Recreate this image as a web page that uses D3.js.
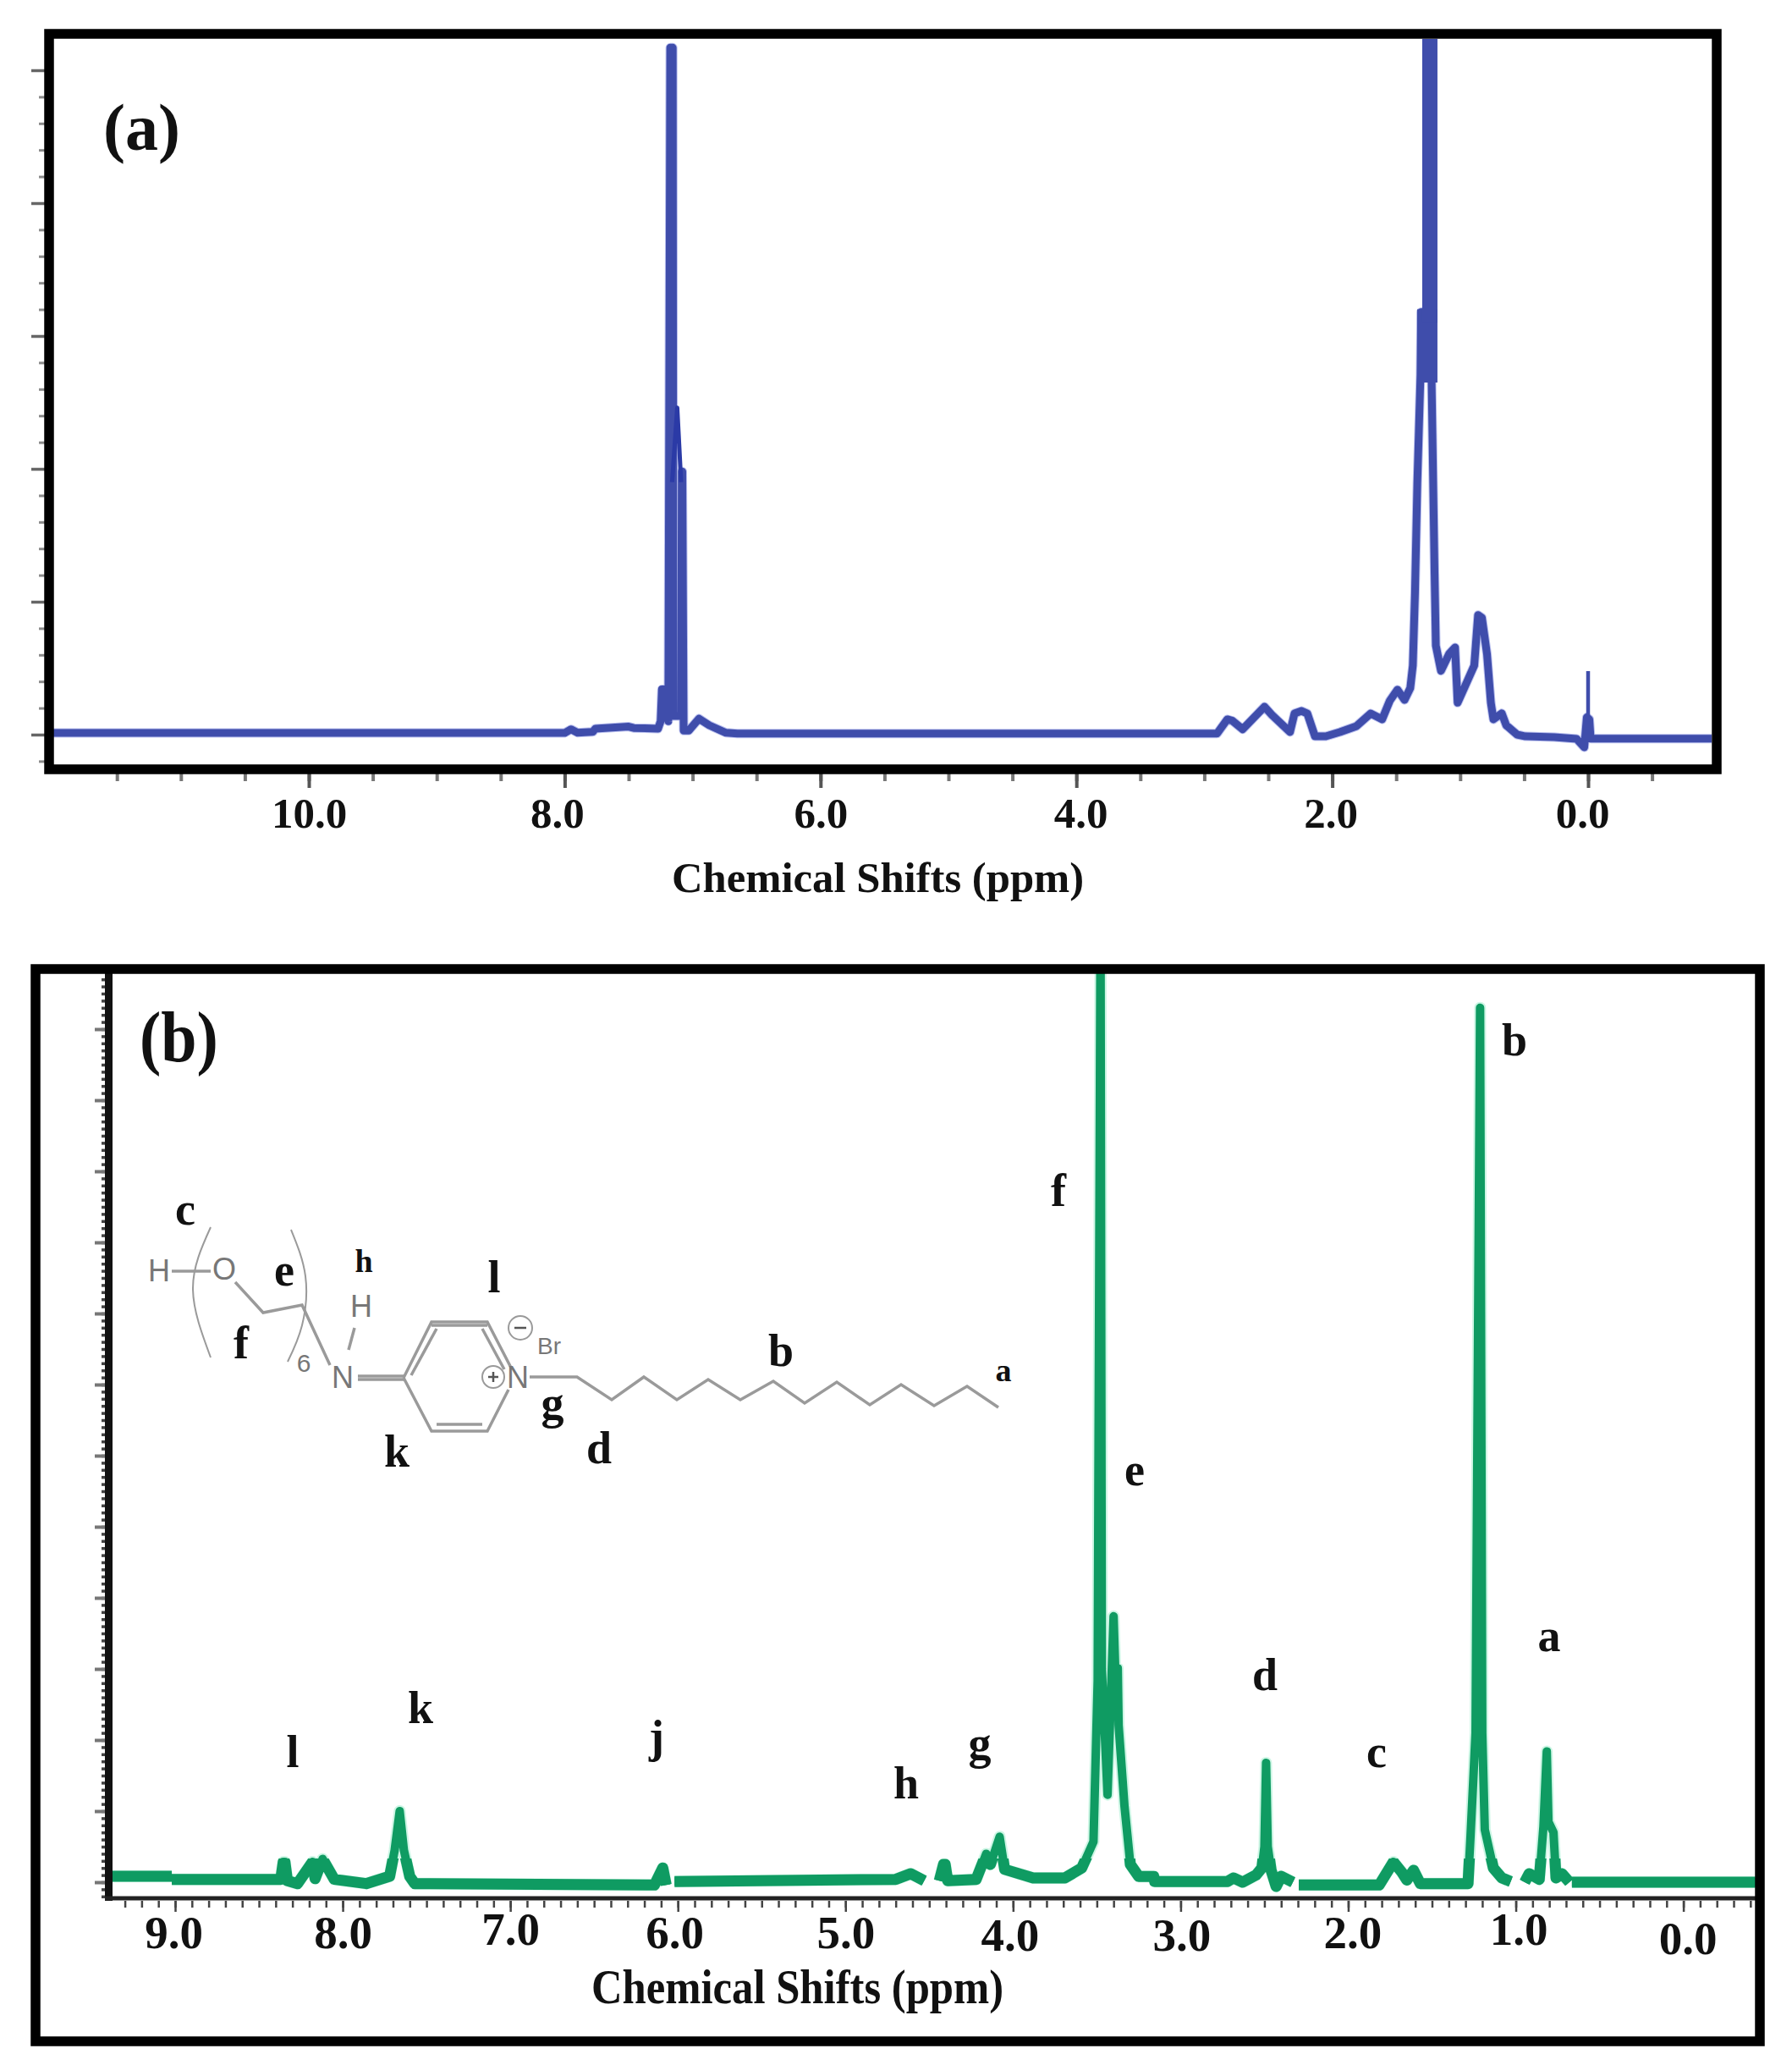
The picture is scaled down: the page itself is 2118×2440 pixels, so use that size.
<!DOCTYPE html>
<html><head><meta charset="utf-8">
<script src="https://cdn.jsdelivr.net/npm/d3@7"></script>
<style>html,body{margin:0;background:#fff}svg{display:block}text{font-family:"Liberation Serif",serif;font-weight:bold;fill:#111}</style>
</head><body><div id="c"></div>
<script>
// ---------- data: [chemical shift (ppm), intensity] ----------
const spectrumA = [[12,0.012],[8,0.012],[7.95,0.04],[7.9,0.015],[7.78,0.02],[7.76,0.045],[7.5,0.06],[7.46,0.05],[7.27,0.045],[7.25,0.1],[7.24,0.34],[7.2,0.34],[7.19,0.1],[7.175,5.17],[7.155,5.17],[7.15,0.14],[7.09,0.14],[7.085,1.98],[7.08,1.98],[7.07,0.03],[7.03,0.03],[6.95,0.12],[6.87,0.07],[6.74,0.014],[6.65,0.008],[2.9,0.008],[2.82,0.115],[2.78,0.104],[2.7,0.04],[2.53,0.21],[2.47,0.146],[2.33,0.019],[2.295,0.159],[2.24,0.178],[2.195,0.159],[2.135,-0.013],[2.05,-0.013],[1.94,0.019],[1.81,0.064],[1.7,0.159],[1.61,0.115],[1.55,0.255],[1.49,0.338],[1.435,0.261],[1.39,0.35],[1.37,0.52],[1.353,1.07],[1.335,1.89],[1.31,2.71],[1.305,3.18],[1.22,3.18],[1.224,2.71],[1.2,1.21],[1.19,0.67],[1.15,0.48],[1.085,0.61],[1.04,0.656],[1.02,0.24],[0.95,0.39],[0.89,0.52],[0.86,0.9],[0.83,0.88],[0.79,0.605],[0.76,0.24],[0.74,0.115],[0.675,0.16],[0.64,0.07],[0.555,0],[0.49,-0.013],[0.265,-0.019],[0.09,-0.032],[0.03,-0.096],[0.01,0.13],[-0.01,0.115],[-0.02,-0.03],[-0.97,-0.03]];
const shoulderA = [[7.16,1.9],[7.12,2.46],[7.09,1.9]];
const thickRiseA = [[1.257,2.65],[1.257,3.2]];
const mainColumnA = [[1.237,3.1],[1.237,5.6]];
const referenceSpikeA = [[0,0.1],[0,0.478]];

const spectrumB = [[9.4,0.083],[9.02,0.083],null,[9.02,0.04],[8.37,0.04],[8.355,0.286],[8.345,0.286],[8.33,0.02],[8.27,-0.02],[8.18,0.286],[8.165,0.05],[8.12,0.327],[8.05,0.04],[7.86,-0.02],[7.72,0.083],[7.69,0.45],[7.66,1],[7.635,0.45],[7.6,0.08],[7.57,-0.02],[6.14,-0.04],[6.09,0.2],[6.07,-0.04],null,[6.02,0.01],[4.7,0.04],[4.61,0.12],[4.53,0.02],null,[4.44,0.02],[4.415,0.25],[4.405,0.25],[4.39,0.02],[4.22,0.04],[4.16,0.4],[4.135,0.25],[4.08,0.64],[4.05,0.18],[3.88,0.06],[3.69,0.06],[3.59,0.2],[3.52,0.57],[3.495,2.83],[3.478,13.5],[3.47,3],[3.436,1.23],[3.4,3.74],[3.385,2.6],[3.375,3.01],[3.37,2.21],[3.335,1.07],[3.3,0.25],[3.25,0.08],[3.16,0.08],[3.155,0.01],[2.72,0.01],[2.685,0.06],[2.63,0],[2.55,0.1],[2.515,0.2],[2.5,0.5],[2.49,1.68],[2.48,0.5],[2.46,0.167],[2.43,-0.06],[2.4,0.083],[2.33,0],null,[2.295,-0.04],[1.815,-0.04],[1.73,0.286],[1.68,0.14],[1.65,0.03],[1.61,0.167],[1.57,-0.02],[1.285,-0.02],[1.27,0.65],[1.24,2.1],[1.213,12.3],[1.2,2.1],[1.185,0.74],[1.134,0.2],[1.083,0.06],[1.03,0.01],null,[0.947,0],[0.92,0.12],[0.86,0.04],[0.835,0.78],[0.815,1.84],[0.805,0.85],[0.775,0.7],[0.76,0.06],[0.725,0.12],[0.68,0],null,[0.665,0],[-0.43,0]];

const majorTicksA = [10,8,6,4,2,0];
const tickLabelsA = ["10.0","8.0","6.0","4.0","2.0","0.0"];
const majorTicksB = [9,8,7,6,5,4,3,2,1,0];
const tickLabelsB = ["9.0","8.0","7.0","6.0","5.0","4.0","3.0","2.0","1.0","0.0"];
const peakLabels = ["a","b","c","d","e","f","g","h","j","k","l"];
const axisTitle = "Chemical Shifts (ppm)";
const panelNames = ["(a)","(b)"];

// ---------- layout ----------
const W = 2118, H = 2440;
const svg = d3.select("#c").append("svg").attr("width",W).attr("height",H);
const blue="#3f4dab", blueDark="#2b3aa6", green="#0f9b62";
const defined = d => d !== null;

// ---------- panel a ----------
const xA = d3.scaleLinear().domain([0,10]).range([1877,365]);
const yA = d3.scaleLinear().domain([0,1]).range([868,711]);
const lineA = d3.line().defined(defined).x(d=>xA(d[0])).y(d=>yA(d[1]));
svg.append("clipPath").attr("id","ca").append("rect").attr("x",63).attr("y",46).attr("width",1960).attr("height",858);
const ga = svg.append("g").attr("clip-path","url(#ca)").attr("fill","none").attr("stroke-linejoin","round");
ga.append("path").datum(spectrumA).attr("d",lineA).attr("stroke","#b9bfee").attr("stroke-width",11);
ga.append("path").datum(spectrumA).attr("d",lineA).attr("stroke",blue).attr("stroke-width",9);
ga.append("path").datum(thickRiseA).attr("d",lineA).attr("stroke",blue).attr("stroke-width",24);
ga.append("path").datum(mainColumnA).attr("d",lineA).attr("stroke",blue).attr("stroke-width",18);
ga.append("path").datum(shoulderA).attr("d",lineA).attr("stroke",blueDark).attr("stroke-width",5);
ga.append("path").datum(referenceSpikeA).attr("d",lineA).attr("stroke",blue).attr("stroke-width",4.5);

const minorA = d3.range(-0.5,12,0.5);
function ticks(g, axis, color, w){ g.call(axis); g.select(".domain").remove();
  g.selectAll(".tick line").attr("stroke",color).attr("stroke-width",w); g.selectAll("text").remove(); }
svg.append("g").attr("transform","translate(0,914)").call(ticks,d3.axisBottom(xA).tickValues(minorA).tickSize(9).tickFormat(""),"#777",4);
const axA = svg.append("g").attr("transform","translate(0,914)");
axA.call(d3.axisBottom(xA).tickValues(majorTicksA).tickSize(17).tickPadding(0).tickFormat((d,i)=>tickLabelsA[i]));
axA.select(".domain").remove();
axA.selectAll(".tick line").attr("stroke","#555").attr("stroke-width",4);
const nudgeA=[0,-9,0,5,-2,-7];
axA.selectAll(".tick text").attr("font-size",51).attr("fill","#111").attr("font-family","Liberation Serif").attr("font-weight","bold")
  .attr("dy",null).attr("y",64).attr("dx",(d,i)=>nudgeA[i]);
svg.append("g").attr("transform","translate(53,0)").call(ticks,d3.axisLeft(yA).tickValues(d3.range(-0.2,5.2,0.2)).tickSize(7).tickFormat(""),"#8a8a8a",3);
svg.append("g").attr("transform","translate(53,0)").call(ticks,d3.axisLeft(yA).tickValues([0,1,2,3,4,5]).tickSize(16).tickFormat(""),"#666",3.5);
svg.append("rect").attr("x",58).attr("y",40).attr("width",1971).attr("height",869).attr("fill","none").attr("stroke","#000").attr("stroke-width",11.5);
svg.append("text").attr("x",794).attr("y",1054).attr("font-size",50.7).text(axisTitle);
svg.append("text").attr("x",122).attr("y",177).attr("font-size",78).text(panelNames[0]);

// ---------- panel b ----------
const xB = d3.scaleLinear().domain([0,9]).range([1989.6,207]);
const yB = d3.scaleLinear().domain([0,1]).range([2224,2140]);
const lineB = d3.line().defined(defined).x(d=>xB(d[0])).y(d=>yB(d[1]));
svg.append("clipPath").attr("id","cb").append("rect").attr("x",128).attr("y",1150).attr("width",1947).attr("height",1090);
svg.append("clipPath").attr("id","cbLow").append("rect").attr("x",128).attr("y",2196).attr("width",1947).attr("height",44);
const gb = svg.append("g").attr("clip-path","url(#cb)").attr("fill","none").attr("stroke-linejoin","round");
gb.append("path").datum(spectrumB).attr("d",lineB).attr("stroke","#cdf6e5").attr("stroke-width",14);
gb.append("path").datum(spectrumB).attr("d",lineB).attr("stroke",green).attr("stroke-width",10);
svg.append("g").attr("clip-path","url(#cbLow)").attr("fill","none").attr("stroke-linejoin","round")
  .append("path").datum(spectrumB).attr("d",lineB).attr("stroke",green).attr("stroke-width",13);

svg.append("g").attr("transform","translate(0,2246)").call(ticks,d3.axisBottom(xB).tickValues(d3.range(-4,94).map(d=>d/10)).tickSize(8).tickFormat(""),"#444",2.5);
const axB = svg.append("g").attr("transform","translate(0,2246)");
axB.call(d3.axisBottom(xB).tickValues(majorTicksB).tickSize(13).tickPadding(0).tickFormat((d,i)=>tickLabelsB[i]));
axB.select(".domain").remove();
axB.selectAll(".tick line").attr("stroke","#444").attr("stroke-width",2.5);
const nudgeBx=[-2,0,0,-4,0,-4,1,5,3,5], nudgeBy=[0,0,-4,0,0,3,3,0,-4,7];
axB.selectAll(".tick text").attr("font-size",55).attr("fill","#111").attr("font-family","Liberation Serif").attr("font-weight","bold")
  .attr("dy",null).attr("y",(d,i)=>56+nudgeBy[i]).attr("dx",(d,i)=>nudgeBx[i]);
svg.append("g").attr("transform","translate(124,0)").call(ticks,d3.axisLeft(yB).tickValues(d3.range(-0.2,12.8,0.1)).tickSize(4).tickFormat(""),"#444",3.5);
svg.append("g").attr("transform","translate(124,0)").call(ticks,d3.axisLeft(yB).tickValues(d3.range(0,13,1)).tickSize(12).tickFormat(""),"#777",4);
svg.append("line").attr("x1",128.5).attr("x2",128.5).attr("y1",1150).attr("y2",2246).attr("stroke","#111").attr("stroke-width",9);
svg.append("line").attr("x1",124).attr("x2",2076).attr("y1",2243).attr("y2",2243).attr("stroke","#222").attr("stroke-width",5);
svg.append("rect").attr("x",42).attr("y",1145).attr("width",2038).attr("height",1267).attr("fill","none").attr("stroke","#000").attr("stroke-width",11.5);
svg.append("text").attr("transform","translate(699,2367) scale(1,1.12)").attr("font-size",50.7).text(axisTitle);
svg.append("text").attr("transform","translate(165,1254) scale(1,1.12)").attr("font-size",76).text(panelNames[1]);

// peak letters (centre x, baseline y)
const L = Object.fromEntries(peakLabels.map(k=>[k,k]));
[[L.b,1790,1247],[L.f,1251,1425],[L.e,1341,1755],[L.a,1831,1951],[L.d,1495,1997],[L.c,1627,2088],[L.g,1158,2078],[L.h,1071,2125],[L.j,776,2070],[L.k,497,2036],[L.l,346,2088],
 [L.c,219,1447],[L.e,336,1519],[L.f,285,1605],[L.l,584,1527],[L.k,469,1733],[L.g,653,1676],[L.d,708,1729],[L.b,923,1614]]
 .forEach(([t,x,y])=>svg.append("text").attr("x",x).attr("y",y).attr("text-anchor","middle").attr("font-size",54).text(t));
[[L.h,430,1503],[L.a,1186,1632]].forEach(([t,x,y])=>svg.append("text").attr("x",x).attr("y",y).attr("text-anchor","middle").attr("font-size",38).text(t));

// molecular structure drawing
const st = svg.append("g").attr("fill","none").attr("stroke","#9a9a9a").attr("stroke-width",3.5);
const poly = d3.line();
[[[203,1502],[249,1502]],[[278,1515],[311,1551],[357,1542],[390,1613]],[[423,1626],[477,1626]],[[423,1630],[477,1630]],
 [[419,1569],[412,1595]],[[477,1628],[510,1562],[576,1562],[605,1618]],[[486,1625],[516,1570]],[[570,1570],[596,1618]],[[510,1566],[576,1566]],
 [[601,1642],[576,1691],[510,1691],[477,1628]],[[516,1683],[570,1683]],
 [[626,1627],[682,1627],[723,1654],[761,1627],[800,1654],[837,1630],[875,1654],[914,1632],[951,1658],[989,1633],[1028,1660],[1065,1636],[1104,1661],[1143,1638],[1180,1663]]]
 .forEach(p=>st.append("path").attr("d",poly(p)));
const arc = d3.line().curve(d3.curveNatural);
st.append("path").attr("stroke-width",2).attr("d",arc([[249,1450],[228,1522],[249,1604]]));
st.append("path").attr("stroke-width",2).attr("d",arc([[344,1453],[361,1508],[357,1566],[340,1609]]));
st.append("circle").attr("cx",583).attr("cy",1627).attr("r",13).attr("stroke-width",2);
st.append("circle").attr("cx",615).attr("cy",1569).attr("r",14).attr("stroke-width",2);
st.append("path").attr("stroke","#555").attr("stroke-width",2.5).attr("d","M577 1627H589M583 1621V1633M608 1569H622");
[["H",188,1514,36],["O",265,1512,36],["H",427,1556,36],["N",405,1640,36],["N",612,1640,36],["Br",649,1600,28],["6",359,1621,30]]
 .forEach(([t,x,y,s])=>svg.append("text").attr("x",x).attr("y",y).attr("text-anchor","middle").attr("font-size",s)
   .style("font-family","Liberation Sans").style("font-weight","normal").style("fill","#777").text(t));
</script></body></html>
